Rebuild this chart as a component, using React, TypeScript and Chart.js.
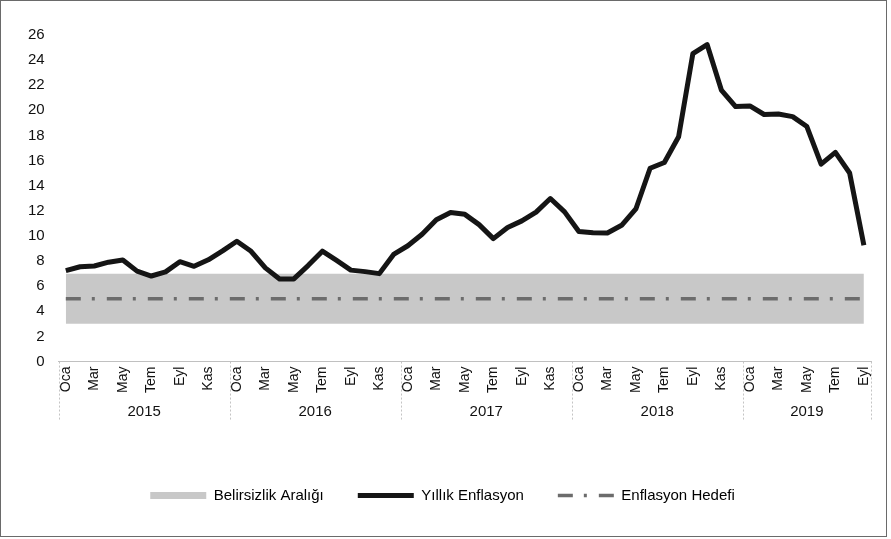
import React, { useEffect, useRef } from 'react';
import { Chart, registerables } from 'chart.js';

Chart.register(...registerables);

// ---- data ----
const monthNames = ['Oca', 'Şub', 'Mar', 'Nis', 'May', 'Haz', 'Tem', 'Ağu', 'Eyl', 'Eki', 'Kas', 'Ara'];
const years = ['2015', '2016', '2017', '2018', '2019'];

// Yıllık Enflasyon (%), Ocak 2015 – Eylül 2019
const inflation2015 = [7.24, 7.55, 7.61, 7.91, 8.09, 7.2, 6.81, 7.14, 7.95, 7.58, 8.1, 8.81];
const inflation2016 = [9.58, 8.78, 7.46, 6.57, 6.58, 7.64, 8.79, 8.05, 7.28, 7.16, 7.0, 8.53];
const inflation2017 = [9.22, 10.13, 11.29, 11.87, 11.72, 10.9, 9.79, 10.68, 11.2, 11.9, 12.98, 11.92];
const inflation2018 = [10.35, 10.26, 10.23, 10.85, 12.15, 15.39, 15.85, 17.9, 24.52, 25.24, 21.62, 20.3];
const inflation2019 = [20.35, 19.67, 19.71, 19.5, 18.71, 15.72, 16.65, 15.01, 9.26];

const bandLower = 3;
const bandUpper = 7;
const targetValue = 5;

const yTicks = [0, 2, 4, 6, 8, 10, 12, 14, 16, 18, 20, 22, 24, 26];

const seriesNames = ['Belirsizlik Aralığı', 'Yıllık Enflasyon', 'Enflasyon Hedefi'];

// ---- derived ----
const inflation = [...inflation2015, ...inflation2016, ...inflation2017, ...inflation2018, ...inflation2019];
const categories: string[] = [];
years.forEach(() => monthNames.forEach((m) => categories.push(m)));
categories.length = inflation.length;
const categoryYears: string[] = [];
years.forEach((y) => monthNames.forEach(() => categoryYears.push(y)));
categoryYears.length = inflation.length;

const yearRanges = years.map((y) => ({
  year: y,
  first: categoryYears.indexOf(y),
  last: categoryYears.lastIndexOf(y),
}));

const FONT = "'Liberation Sans', Arial, sans-serif";
const BAND_COLOR = '#c8c8c8';
const LINE_COLOR = '#151515';
const TARGET_COLOR = '#6c6c6c';
const TARGET_DASH = [15, 11, 3, 12];

const yearSeparators = {
  id: 'yearSeparators',
  afterDraw(chart: any) {
    const xs = chart.scales.x;
    const ctx = chart.ctx;
    ctx.save();
    ctx.strokeStyle = '#c4c4c4';
    ctx.lineWidth = 1;
    ctx.setLineDash([2, 2]);
    const bounds = yearRanges
      .map((r) => r.first - 0.5)
      .concat([yearRanges[yearRanges.length - 1].last + 0.5]);
    bounds.forEach((b) => {
      const px = Math.round(xs.getPixelForValue(b)) + 0.5;
      ctx.beginPath();
      ctx.moveTo(px, xs.top);
      ctx.lineTo(px, xs.top + 60);
      ctx.stroke();
    });
    ctx.restore();
  },
};

export default function App() {
  const ref = useRef<HTMLCanvasElement>(null);

  useEffect(() => {
    if (!ref.current) return;
    const chart = new Chart(ref.current, {
      type: 'line',
      data: {
        labels: categories,
        datasets: [
          {
            label: 'bandLower',
            data: categories.map(() => bandLower),
            borderWidth: 0,
            pointRadius: 0,
            fill: false,
            backgroundColor: 'transparent',
            borderColor: 'transparent',
            order: 4,
          },
          {
            label: seriesNames[0],
            data: categories.map(() => bandUpper),
            borderWidth: 0,
            pointRadius: 0,
            fill: '-1',
            backgroundColor: BAND_COLOR,
            borderColor: 'transparent',
            order: 3,
          },
          {
            label: seriesNames[2],
            data: categories.map(() => targetValue),
            borderWidth: 3.5,
            borderColor: TARGET_COLOR,
            borderDash: TARGET_DASH,
            pointRadius: 0,
            fill: false,
            order: 2,
          },
          {
            label: seriesNames[1],
            data: inflation,
            borderWidth: 5,
            borderColor: LINE_COLOR,
            pointRadius: 0,
            tension: 0,
            fill: false,
            borderJoinStyle: 'round',
            order: 1,
          },
        ],
      },
      options: {
        animation: false,
        responsive: false,
        layout: { padding: { left: 14, right: 20, top: 35, bottom: 26 } },
        plugins: {
          tooltip: { enabled: false },
          legend: {
            position: 'bottom',
            labels: {
              usePointStyle: true,
              pointStyleWidth: 56,
              boxHeight: 7,
              padding: 34,
              color: '#111',
              font: { family: FONT, size: 15 },
              generateLabels: () => [
                {
                  text: seriesNames[0],
                  fillStyle: BAND_COLOR,
                  strokeStyle: BAND_COLOR,
                  lineWidth: 0,
                  pointStyle: 'rect',
                  datasetIndex: 1,
                  hidden: false,
                },
                {
                  text: seriesNames[1],
                  fillStyle: LINE_COLOR,
                  strokeStyle: LINE_COLOR,
                  lineWidth: 5,
                  pointStyle: 'line',
                  datasetIndex: 3,
                  hidden: false,
                },
                {
                  text: seriesNames[2],
                  fillStyle: TARGET_COLOR,
                  strokeStyle: TARGET_COLOR,
                  lineWidth: 3.5,
                  lineDash: TARGET_DASH,
                  pointStyle: 'line',
                  datasetIndex: 2,
                  hidden: false,
                },
              ],
            },
          },
        },
        scales: {
          x: {
            type: 'category',
            offset: true,
            grid: { display: true, drawOnChartArea: false, drawTicks: false, color: 'transparent' },
            border: { display: true, color: '#c0c0c0', dash: [2, 2], width: 1 },
            ticks: {
              autoSkip: false,
              minRotation: 90,
              maxRotation: 90,
              padding: 5,
              color: '#111',
              font: { family: FONT, size: 14 },
              callback: (_v: any, i: number) => (i % 2 === 0 ? categories[i] : ''),
            },
          },
          x2: {
            type: 'linear',
            position: 'bottom',
            weight: 1,
            min: -0.5,
            max: inflation.length - 0.5,
            grid: { display: false },
            border: { display: false },
            afterBuildTicks: (scale: any) => {
              scale.ticks = yearRanges.map((r) => ({ value: (r.first + r.last) / 2 }));
            },
            afterFit: (scale: any) => {
              scale.height = 56;
            },
            ticks: {
              autoSkip: false,
              maxRotation: 0,
              padding: -3,
              color: '#111',
              font: { family: FONT, size: 15 },
              callback: (_v: any, i: number) => yearRanges[i]?.year ?? '',
            },
          },
          y: {
            min: 0,
            max: 26,
            afterBuildTicks: (scale: any) => {
              scale.ticks = yTicks.map((v) => ({ value: v }));
            },
            grid: { display: false, drawTicks: false },
            border: { display: false },
            ticks: {
              padding: 14,
              color: '#111',
              font: { family: FONT, size: 15 },
            },
          },
        },
      },
      plugins: [yearSeparators],
    });
    return () => chart.destroy();
  }, []);

  return (
    <div style={{ position: 'absolute', left: 0, top: 0, width: 891, height: 539, background: '#fff' }}>
      <canvas ref={ref} width={891} height={539} style={{ position: 'absolute', left: 0, top: 0 }} />
      <div
        style={{
          position: 'absolute',
          left: 0,
          top: 0,
          width: 885,
          height: 535,
          border: '1px solid #6a6a6a',
          pointerEvents: 'none',
        }}
      />
    </div>
  );
}
